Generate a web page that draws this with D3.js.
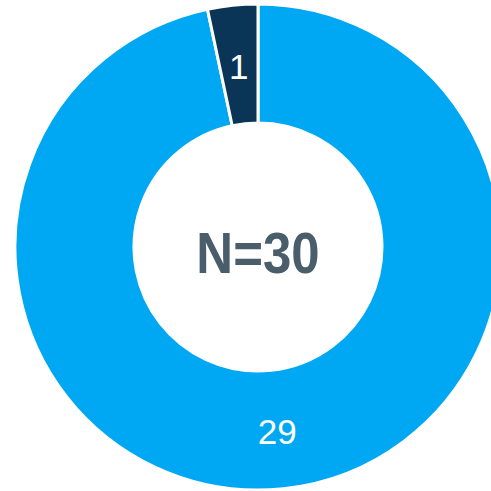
<!DOCTYPE html>
<html>
<head>
<meta charset="utf-8">
<script src="https://cdn.jsdelivr.net/npm/d3@7.9.0/dist/d3.min.js"></script>
<style>
  html, body { margin: 0; padding: 0; background: #fff; overflow: hidden; }
  svg { display: block; }
</style>
</head>
<body>
<div id="chart"></div>
<script>
const categories = ['A', 'B'];
const values = [29, 1];
const colors = ['#00a8f3', '#0a3556'];
const totalLabel = 'N=30';

const width = 491;
const height = 491;
const cx = 258, cy = 247;
const outerR = 243, innerR = 124;

const svg = d3.select('#chart')
  .append('svg')
  .attr('width', width)
  .attr('height', height);

const g = svg.append('g').attr('transform', `translate(${cx},${cy})`);

const pie = d3.pie().sort(null).value(d => d.value);
const arcs = pie(categories.map((c, i) => ({ name: c, value: values[i], color: colors[i] })));

const arc = d3.arc().innerRadius(innerR).outerRadius(outerR);

g.selectAll('path')
  .data(arcs)
  .join('path')
  .attr('d', arc)
  .attr('fill', d => d.data.color)
  .attr('stroke', '#fff')
  .attr('stroke-width', 3);

g.selectAll('text.lbl')
  .data(arcs)
  .join('text')
  .attr('class', 'lbl')
  .attr('transform', d => `translate(${arc.centroid(d)})`)
  .attr('text-anchor', 'middle')
  .attr('dy', '0.42em')
  .attr('fill', '#fff')
  .style('font-family', '"Liberation Sans", Arial, sans-serif')
  .style('font-size', '35px')
  .text(d => d.data.value);

// centre total, slightly stretched vertically like the original
g.append('text')
  .attr('text-anchor', 'middle')
  .attr('transform', 'translate(0,5) scale(1,1.12)')
  .attr('dy', '0.36em')
  .attr('fill', '#4a5d6a')
  .style('font-family', '"Liberation Sans", Arial, sans-serif')
  .style('font-weight', 'bold')
  .style('font-size', '51px')
  .text(totalLabel);
</script>
</body>
</html>
